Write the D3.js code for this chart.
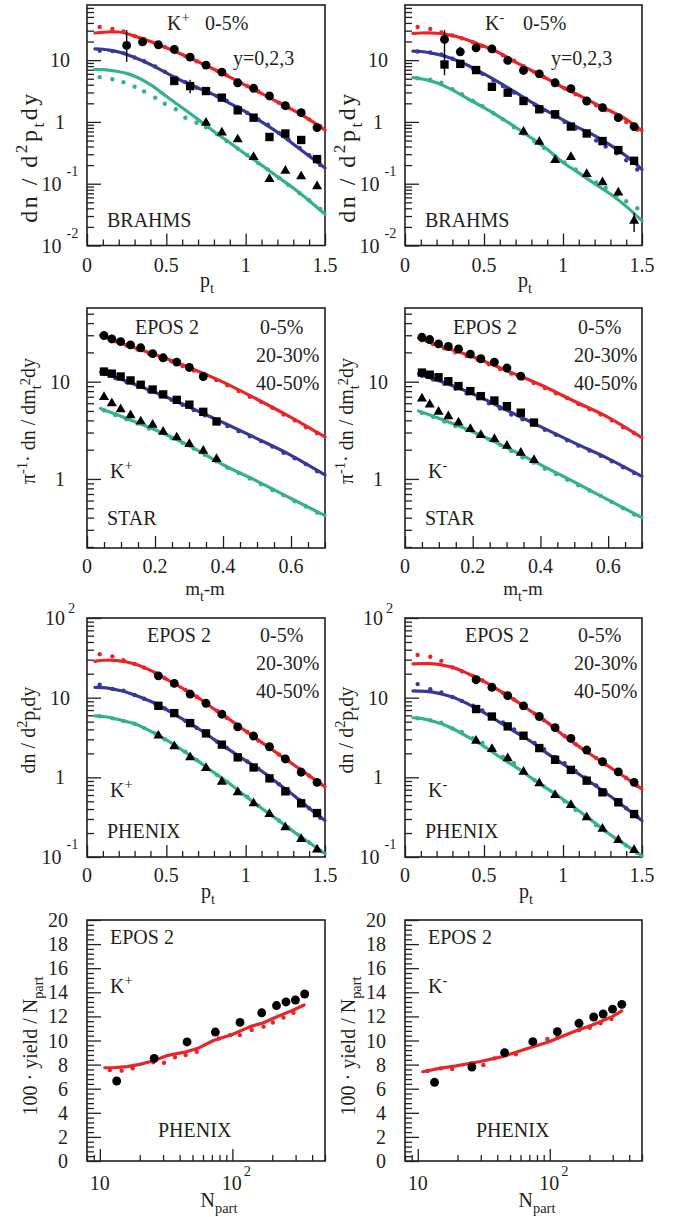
<!DOCTYPE html>
<html>
<head>
<meta charset="utf-8">
<script src="https://cdn.jsdelivr.net/npm/d3@7"></script>
<style>
  body { margin: 0; background: #fff; }
  svg text { font-family: "Liberation Serif", "Times New Roman", serif; fill: #231f20; white-space: pre; }
</style>
</head>
<body>
<svg id="fig" width="678" height="1217"></svg>
<script>
// ------------------------------------------------------------------
// Kaon spectra and yields, EPOS 2 compared with RHIC data
// ------------------------------------------------------------------

// ---- BRAHMS, 0-5%, rapidities y = 0, 2, 3 ----
const brahmsModelPt = [0.05, 0.1, 0.15, 0.2, 0.25, 0.3, 0.4, 0.5, 0.6, 0.7, 0.8, 0.9, 1.0, 1.1, 1.2, 1.3, 1.4, 1.5];
const brahmsKpModelY0 = [27.5, 28.2, 28.6, 28.5, 27, 24.5, 20, 15.8, 12.3, 9.4, 7.1, 5.3, 3.9, 2.9, 2.1, 1.55, 1.1, 0.74];
const brahmsKpModelY2 = [15.2, 15, 14.4, 13.5, 12.3, 11, 8.5, 6.2, 4.6, 3.55, 2.75, 2.0, 1.45, 1.0, 0.68, 0.44, 0.28, 0.18];
const brahmsKpModelY3 = [7.1, 7.0, 6.8, 6.5, 6.1, 5.5, 4.0, 2.6, 1.7, 1.1, 0.70, 0.46, 0.30, 0.20, 0.13, 0.085, 0.053, 0.032];
const brahmsKmModelY0 = [27, 27.5, 27.6, 27.2, 26.3, 25, 21, 16.8, 13, 9.3, 6.8, 5.0, 3.6, 2.7, 2.0, 1.5, 1.1, 0.72];
const brahmsKmModelY2 = [14, 13.8, 13.3, 12.5, 11.6, 10.5, 8.2, 6.0, 4.3, 3.0, 2.1, 1.5, 1.08, 0.8, 0.6, 0.42, 0.28, 0.17];
const brahmsKmModelY3 = [5.2, 5.0, 4.7, 4.3, 3.8, 3.3, 2.35, 1.7, 1.2, 0.82, 0.55, 0.36, 0.22, 0.15, 0.10, 0.068, 0.043, 0.025];

// second EPOS 2 calculation, drawn as dots
const spectraDotPt = [0.08, 0.16, 0.23, 0.3, 0.36, 0.43, 0.49, 0.56, 0.62, 0.69, 0.75, 0.82, 0.88, 0.95, 1.01, 1.08, 1.14, 1.21, 1.27, 1.34, 1.4, 1.47];
const brahmsKpDotY0 = [34.5, 32, 29, 24.5, 22, 18.8, 16.3, 13.5, 11.6, 9.6, 8.2, 6.7, 5.7, 4.6, 3.8, 3.1, 2.6, 2.05, 1.7, 1.35, 1.1, 0.85];
const brahmsKpDotY2 = [14.2, 14, 13, 11, 9.6, 7.9, 6.5, 5.2, 4.4, 3.6, 3.1, 2.6, 2.2, 1.75, 1.4, 1.1, 0.9, 0.66, 0.52, 0.38, 0.29, 0.2];
const brahmsKpDotY3 = [5.3, 4.9, 4.4, 3.7, 3.1, 2.47, 1.97, 1.6, 1.17, 0.97, 0.82, 0.63, 0.49, 0.37, 0.29, 0.215, 0.17, 0.125, 0.095, 0.07, 0.054, 0.039];
const brahmsKmDotY0 = [34.4, 32, 28, 25, 22.5, 19.5, 17, 14, 12, 9.8, 8.0, 6.4, 5.3, 4.2, 3.5, 2.8, 2.3, 1.85, 1.55, 1.2, 1.0, 0.75];
const brahmsKmDotY2 = [13.8, 13.3, 12.4, 10.5, 9.0, 7.3, 6.0, 4.7, 3.8, 3.0, 2.4, 1.9, 1.55, 1.2, 1.0, 0.78, 0.64, 0.5, 0.4, 0.31, 0.24, 0.17];
const brahmsKmDotY3 = [5.1, 4.8, 4.3, 3.4, 2.8, 2.2, 1.8, 1.38, 1.1, 0.82, 0.65, 0.48, 0.38, 0.28, 0.22, 0.17, 0.135, 0.105, 0.085, 0.065, 0.052, 0.04];

// measured points
const brahmsPtFrom025 = [0.25, 0.35, 0.45, 0.55, 0.65, 0.75, 0.85, 0.95, 1.05, 1.15, 1.25, 1.35, 1.45];
const brahmsPtFrom055 = [0.55, 0.65, 0.75, 0.85, 0.95, 1.05, 1.15, 1.25, 1.35, 1.45];
const brahmsPtFrom075 = [0.75, 0.85, 0.95, 1.05, 1.15, 1.25, 1.35, 1.45];
const brahmsKpDataY0 = [17.3, 19.7, 17.7, 14.9, 11.2, 8.3, 6.4, 4.3, 3.5, 2.63, 1.83, 1.41, 0.81];
const brahmsKpDataY2 = [4.6, 3.8, 3.16, 2.47, 1.54, 1.17, 0.57, 0.65, 0.51, 0.25];
const brahmsKpDataY3 = [0.97, 0.67, 0.52, 0.27, 0.119, 0.162, 0.131, 0.091];
const brahmsKmDataY0 = [21.6, 13.6, 15.8, 15.2, 9.9, 6.8, 6.0, 4.3, 3.45, 2.18, 1.70, 1.17, 0.84];
const brahmsKmDataY2 = [8.5, 8.7, 6.9, 3.7, 2.97, 2.18, 1.6, 1.33, 0.84, 0.65, 0.49, 0.35, 0.235];
const brahmsKmDataY3 = [0.69, 0.475, 0.24, 0.27, 0.143, 0.105, 0.072, 0.025];
// error bars: [pt, low, high]
const brahmsKpErrors = [[0.25, 9.4, 30.6], [0.65, 2.9, 4.8]];
const brahmsKmErrors = [[0.25, 5.7, 30.6], [0.35, 12, 16.5], [1.45, 0.0165, 0.034]];

// ---- STAR, centralities 0-5%, 20-30%, 40-50% ----
const starModelMt = [0.04, 0.1, 0.2, 0.3, 0.4, 0.5, 0.6, 0.7];
const starKpModel0 = [30, 25, 19, 14, 9.9, 6.6, 4.3, 2.7];
const starKpModel20 = [12.5, 10.6, 7.8, 5.5, 3.8, 2.6, 1.75, 1.1];
const starKpModel40 = [5.3, 4.4, 3.2, 2.2, 1.4, 0.95, 0.63, 0.42];
const starKmModel0 = [28, 23.5, 18, 13, 9.3, 6.3, 4.3, 2.65];
const starKmModel20 = [12, 10.2, 7.5, 5.1, 3.45, 2.35, 1.62, 1.06];
const starKmModel40 = [5.0, 4.2, 3.05, 2.1, 1.4, 0.93, 0.61, 0.40];
const starDotMt = [0.05, 0.083, 0.116, 0.149, 0.182, 0.215, 0.248, 0.281, 0.314, 0.347, 0.38, 0.413, 0.446, 0.479, 0.512, 0.545, 0.578, 0.611, 0.644, 0.677];
const starKpDot0 = [28.6, 26, 23.6, 21.4, 19.5, 17.8, 16.2, 14.5, 13.0, 11.6, 10.4, 9.2, 8.0, 7.0, 6.2, 5.4, 4.6, 4.0, 3.4, 2.95];
const starKpDot20 = [12, 10.9, 9.9, 9.0, 8.0, 7.2, 6.5, 5.8, 5.1, 4.5, 4.0, 3.5, 3.1, 2.75, 2.45, 2.15, 1.86, 1.63, 1.42, 1.2];
const starKpDot40 = [5.05, 4.55, 4.1, 3.7, 3.3, 3.0, 2.65, 2.35, 2.05, 1.77, 1.52, 1.3, 1.15, 1.01, 0.88, 0.77, 0.68, 0.59, 0.52, 0.45];
const starKmDot0 = [26.7, 24.3, 22, 20.1, 18.4, 16.8, 15.1, 13.5, 12.1, 10.8, 9.7, 8.6, 7.6, 6.8, 5.9, 5.2, 4.6, 4.0, 3.4, 2.95];
const starKmDot20 = [11.5, 10.5, 9.5, 8.5, 7.6, 6.8, 6.0, 5.3, 4.6, 4.1, 3.6, 3.2, 2.85, 2.5, 2.2, 1.96, 1.73, 1.52, 1.32, 1.15];
const starKmDot40 = [4.75, 4.35, 3.9, 3.5, 3.2, 2.85, 2.55, 2.25, 1.94, 1.67, 1.47, 1.27, 1.12, 0.98, 0.86, 0.76, 0.67, 0.58, 0.5, 0.43];
const starMt = [0.05, 0.073, 0.099, 0.128, 0.158, 0.193, 0.224, 0.264, 0.301, 0.342, 0.381];
const starKpData0 = [29.8, 27.5, 25.8, 23.9, 22.3, 19.4, 17.6, 15.9, 14.0, 11.3];
const starKpData20 = [12.7, 12.1, 11.3, 10.3, 9.3, 8.3, 7.4, 6.5, 5.8, 4.9, 3.9];
const starKpData40 = [6.96, 6.0, 5.2, 4.5, 3.9, 3.6, 3.05, 2.67, 2.28, 1.95, 1.6];
const starKmData0 = [28.6, 27.1, 24.5, 23, 21.7, 19.2, 17.2, 15.9, 13.8, 11.4];
const starKmData20 = [12.4, 11.8, 11.1, 10.1, 9.0, 8.0, 7.1, 6.4, 5.6, 4.8, 3.8];
const starKmData40 = [6.7, 5.8, 4.9, 4.4, 3.8, 3.25, 2.82, 2.57, 2.19, 1.86, 1.56];

// ---- PHENIX, centralities 0-5%, 20-30%, 40-50% ----
const phenixModelPt = [0.05, 0.1, 0.15, 0.2, 0.25, 0.3, 0.4, 0.5, 0.6, 0.7, 0.8, 0.9, 1.0, 1.1, 1.2, 1.3, 1.4, 1.5];
const phenixKpModel0 = [28.5, 29.5, 29.6, 29, 28, 26.5, 22, 17.1, 13.2, 10, 7.2, 5.3, 3.8, 2.75, 2.0, 1.45, 1.05, 0.76];
const phenixKpModel20 = [13.5, 13.4, 13, 12.4, 11.7, 10.8, 9.0, 7.1, 5.4, 4.1, 3.0, 2.2, 1.62, 1.2, 0.85, 0.6, 0.41, 0.286];
const phenixKpModel40 = [5.9, 5.8, 5.6, 5.3, 5.0, 4.7, 3.8, 2.95, 2.2, 1.6, 1.15, 0.83, 0.58, 0.41, 0.295, 0.21, 0.152, 0.11];
const phenixKmModel0 = [26.5, 26.8, 26.7, 26.3, 25.3, 24, 20, 16, 12.2, 9.2, 6.7, 4.9, 3.4, 2.45, 1.8, 1.33, 0.98, 0.71];
const phenixKmModel20 = [12.2, 12.1, 11.9, 11.5, 10.9, 10.2, 8.3, 6.5, 4.9, 3.7, 2.8, 2.0, 1.47, 1.1, 0.8, 0.58, 0.41, 0.286];
const phenixKmModel40 = [5.6, 5.5, 5.25, 4.9, 4.55, 4.1, 3.2, 2.45, 1.8, 1.35, 0.98, 0.72, 0.53, 0.38, 0.27, 0.19, 0.14, 0.104];
const phenixKpDot0 = [35, 33, 29.6, 26.5, 23.8, 20.5, 17.5, 14.6, 12.5, 10.3, 8.5, 6.8, 5.6, 4.5, 3.7, 2.9, 2.4, 1.93, 1.6, 1.27, 1.05, 0.83];
const phenixKpDot20 = [14.5, 12.9, 12.2, 10.8, 9.7, 8.4, 7.3, 6.1, 5.1, 4.2, 3.5, 2.8, 2.35, 1.9, 1.58, 1.28, 1.05, 0.82, 0.67, 0.52, 0.41, 0.31];
const phenixKpDot40 = [5.85, 5.5, 5.1, 4.7, 4.15, 3.55, 3.0, 2.5, 2.1, 1.65, 1.36, 1.07, 0.88, 0.7, 0.57, 0.44, 0.36, 0.285, 0.235, 0.185, 0.152, 0.12];
const phenixKmDot0 = [34.3, 32.6, 29, 24, 21.5, 18.8, 16.4, 13.6, 11.5, 9.5, 7.85, 6.3, 5.2, 4.1, 3.3, 2.6, 2.2, 1.75, 1.45, 1.17, 0.98, 0.78];
const phenixKmDot20 = [14.8, 12.8, 11.6, 10.2, 9.1, 7.9, 6.9, 5.8, 4.9, 4.0, 3.3, 2.7, 2.25, 1.8, 1.5, 1.2, 1.0, 0.79, 0.66, 0.52, 0.41, 0.32];
const phenixKmDot40 = [5.5, 5.2, 4.85, 4.1, 3.7, 3.1, 2.7, 2.25, 1.8, 1.5, 1.15, 0.92, 0.77, 0.6, 0.5, 0.39, 0.32, 0.25, 0.21, 0.165, 0.14, 0.112];
const phenixPt = [0.45, 0.55, 0.65, 0.75, 0.85, 0.95, 1.05, 1.15, 1.25, 1.35, 1.45];
const phenixKpData0 = [18.8, 15.1, 11.1, 8.5, 6.2, 4.3, 3.3, 2.42, 1.70, 1.16, 0.865];
const phenixKpData20 = [7.9, 6.4, 4.8, 3.56, 2.57, 1.78, 1.33, 0.97, 0.667, 0.472, 0.356];
const phenixKpData40 = [3.33, 2.45, 1.78, 1.31, 0.88, 0.648, 0.472, 0.346, 0.236, 0.168, 0.124];
const phenixKmData0 = [16.8, 13.5, 10.6, 7.9, 5.8, 4.2, 3.08, 2.2, 1.57, 1.17, 0.865];
const phenixKmData20 = [7.2, 5.8, 4.36, 3.33, 2.33, 1.66, 1.24, 0.908, 0.648, 0.486, 0.346];
const phenixKmData40 = [2.88, 2.27, 1.73, 1.17, 0.84, 0.6, 0.449, 0.315, 0.225, 0.163, 0.122];

// ---- PHENIX yields per participant vs Npart ----
const npartData = [13.4, 25.7, 45.5, 74.4, 114.2, 166.6, 215.3, 253.9, 299.0, 351.4];
const yieldKpData = [6.64, 8.52, 9.88, 10.7, 11.5, 12.3, 12.9, 13.2, 13.36, 13.86];
const yieldKmData = [6.53, 7.8, 8.99, 9.9, 10.73, 11.43, 11.95, 12.2, 12.6, 13.0];
const npartModelKp = [10.9, 13, 16, 20, 25, 32, 40, 45, 55, 72, 100, 136, 170, 204, 250, 289, 348];
const yieldModelKp = [7.74, 7.75, 7.83, 8.02, 8.3, 8.74, 8.95, 9.07, 9.35, 10.0, 10.5, 11.15, 11.45, 11.84, 12.25, 12.53, 12.95];
const npartModelKm = [10.9, 14.6, 19.5, 29.2, 43.9, 65.9, 98.9, 148, 210, 298, 351];
const yieldModelKm = [7.41, 7.69, 7.9, 8.24, 8.66, 9.29, 9.9, 10.68, 11.29, 11.98, 12.45];
const npartDotKp = [11.9, 14.6, 17.7, 25.3, 30.5, 36.9, 44.4, 53.8, 79, 96, 114, 140, 172, 202, 243, 289];
const yieldDotKp = [7.55, 7.5, 7.7, 8.2, 8.15, 8.6, 8.8, 9.07, 10.17, 10.45, 10.45, 10.87, 11.15, 11.5, 11.9, 12.3];
const npartDotKm = [11.9, 15, 18.2, 25.3, 31.4, 38, 55.4, 96, 114, 167, 201, 243, 294];
const yieldDotKm = [7.47, 7.69, 7.63, 8.1, 7.97, 8.52, 8.85, 10.12, 10.24, 10.87, 11.06, 11.43, 11.78];

// ------------------------------------------------------------------
const INK = '#231f20';
const RED = '#e8262a', BLUE = '#38389a', GREEN = '#35b387';
const svg = d3.select('#fig');

// text with super/subscript runs: parts = [[string, kind, shift, dx], ...]
function richText(parent, parts, size, anchor) {
  const t = parent.append('text').attr('font-size', size).attr('text-anchor', anchor || 'start');
  let cur = 0;
  parts.forEach(([str, kind, shift, gap]) => {
    let target = 0, fs = size;
    if (kind === 'sup') { target = shift != null ? shift : -0.42 * size; fs = size * 0.72; }
    else if (kind === 'sub') { target = shift != null ? shift : 0.3 * size; fs = size * 0.72; }
    const ts = t.append('tspan').attr('font-size', fs).attr('dy', target - cur).text(str);
    if (gap) ts.attr('dx', gap);
    cur = target;
  });
  return t;
}
function label(parent, x, y, parts, size, anchor) {
  return richText(parent, parts, size, anchor).attr('x', x).attr('y', y);
}

function logTicks([a, b]) {
  const out = [];
  for (let e = Math.floor(Math.log10(a)) - 1; e <= Math.ceil(Math.log10(b)); e++) {
    for (let k = 1; k <= 9; k++) {
      const v = k * Math.pow(10, e);
      if (v >= a * 0.999 && v <= b * 1.001) out.push({ v, major: k === 1 });
    }
  }
  return out;
}
function linTicks([a, b], major, minor) {
  const out = [];
  const n = Math.round((b - a) / minor);
  for (let i = 0; i <= n; i++) {
    const v = +(a + i * minor).toFixed(6);
    if (v > b + 1e-9) break;
    out.push({ v, major: Math.abs(v / major - Math.round(v / major)) < 1e-6 });
  }
  return out;
}
function powLabel(v, raise, gap) {
  const e = Math.round(Math.log10(v));
  if (e === 0) return [['1']];
  if (e === 1) return [['10']];
  return [['10'], [String(e), 'sup', raise, gap]];
}

function panel(cfg) {
  const g = svg.append('g');
  const L = cfg.left, T = cfg.top, W = cfg.width, H = cfg.height;
  const x = (cfg.xLog ? d3.scaleLog() : d3.scaleLinear()).domain(cfg.xDomain).range([L, L + W]);
  const y = (cfg.yLog ? d3.scaleLog() : d3.scaleLinear()).domain(cfg.yDomain).range([T + H, T]);

  const yt = cfg.yLog ? logTicks(cfg.yDomain) : linTicks(cfg.yDomain, cfg.yMajor, cfg.yMinor);
  const xt = cfg.xLog ? logTicks(cfg.xDomain) : linTicks(cfg.xDomain, cfg.xMajor, cfg.xMinor);

  const tickStyle = s => { s.select('.domain').remove(); s.selectAll('line').attr('stroke', INK).attr('stroke-width', 1.3); };
  g.append('g').attr('transform', `translate(${L},0)`)
    .call(d3.axisLeft(y).tickValues(yt.filter(t => t.major).map(t => t.v)).tickSize(-14).tickFormat(''))
    .call(tickStyle);
  g.append('g').attr('transform', `translate(${L},0)`)
    .call(d3.axisLeft(y).tickValues(yt.filter(t => !t.major).map(t => t.v)).tickSize(-7).tickFormat(''))
    .call(tickStyle);
  g.append('g').attr('transform', `translate(0,${T + H})`)
    .call(d3.axisBottom(x).tickValues(xt.filter(t => t.major).map(t => t.v)).tickSize(-12).tickFormat(''))
    .call(tickStyle);
  g.append('g').attr('transform', `translate(0,${T + H})`)
    .call(d3.axisBottom(x).tickValues(xt.filter(t => !t.major).map(t => t.v)).tickSize(-6).tickFormat(''))
    .call(tickStyle);

  // tick labels
  const fs = 20;
  yt.filter(t => t.major).forEach(t => {
    if (cfg.yLog) {
      const e = Math.round(Math.log10(t.v));
      label(g, L - 27, y(t.v) + 7, powLabel(t.v, e < 0 ? -15 : -12, e < 0 ? 5 : 3), fs, 'middle');
    } else {
      label(g, L - 19, y(t.v) + 7, [[String(t.v)]], fs, 'end');
    }
  });
  xt.filter(t => t.major).forEach(t => {
    if (cfg.xLog) {
      const e = Math.round(Math.log10(t.v));
      label(g, x(t.v) + (e > 1 ? 4 : 0), T + H + cfg.xLabelOff, powLabel(t.v, -14, 2), fs, 'middle');
    } else {
      label(g, x(t.v), T + H + cfg.xLabelOff, [[String(t.v)]], fs, 'middle');
    }
  });

  // axis titles
  label(g, cfg.xTitle.x, cfg.xTitle.y, cfg.xTitle.parts, cfg.xTitle.size || fs, 'middle');
  richText(g, cfg.yTitle.parts, cfg.yTitle.size || fs, 'middle')
    .attr('letter-spacing', cfg.yTitle.spacing || 0)
    .attr('transform', `translate(${cfg.yTitle.x},${cfg.yTitle.y}) rotate(-90)`);

  // frame
  g.append('rect').attr('x', L).attr('y', T).attr('width', W).attr('height', H)
    .attr('fill', 'none').attr('stroke', INK).attr('stroke-width', 1.6);

  const plot = g.append('g');
  return { g, plot, x, y };
}

function modelLine(p, xs, ys, color, curve) {
  p.plot.append('path')
    .datum(xs.map((v, i) => [v, ys[i]]))
    .attr('fill', 'none').attr('stroke', color).attr('stroke-width', 3.2)
    .attr('stroke-linejoin', 'round').attr('stroke-linecap', 'round')
    .attr('d', d3.line().x(d => p.x(d[0])).y(d => p.y(d[1])).curve(curve || d3.curveMonotoneX));
}
function modelDots(p, xs, ys, color) {
  p.plot.append('g').selectAll('circle')
    .data(xs.map((v, i) => [v, ys[i]]))
    .join('circle').attr('cx', d => p.x(d[0])).attr('cy', d => p.y(d[1]))
    .attr('r', 2.2).attr('fill', color);
}
const SYM = {
  circle: d3.symbol(d3.symbolCircle, 62),
  square: d3.symbol(d3.symbolSquare, 70),
  triangle: d3.symbol(d3.symbolTriangle, 44)
};
function dataPoints(p, xs, ys, kind) {
  p.plot.append('g').selectAll('path')
    .data(ys.map((v, i) => [xs[i], v]))
    .join('path')
    .attr('transform', d => `translate(${p.x(d[0])},${p.y(d[1])})`)
    .attr('d', SYM[kind]()).attr('fill', '#000');
}
function errorBars(p, list) {
  p.plot.append('g').selectAll('line')
    .data(list).join('line')
    .attr('x1', d => p.x(d[0])).attr('x2', d => p.x(d[0]))
    .attr('y1', d => p.y(d[1])).attr('y2', d => p.y(d[2]))
    .attr('stroke', '#000').attr('stroke-width', 1.4);
}

// ---- layout ----
const COLS = [{ left: 87, width: 238 }, { left: 405, width: 237 }];
const ROWS = [{ top: 5, height: 240.5 }, { top: 308, height: 240 }, { top: 618, height: 239 }, { top: 920, height: 241 }];
const DX = COLS[1].left - COLS[0].left;

const ptTitle = [['p'], ['t', 'sub']];
const dndpt = [['dn / d'], ['2', 'sup'], ['p'], ['t', 'sub'], ['dy']];
const dndmt = [['π'], ['-1', 'sup'], ['· dn / dm'], ['t', 'sub'], ['2', 'sup', -5], ['dy']];
const yieldTitle = [['100 · yield / N'], ['part', 'sub']];

function rowCfg(r, c, extra) {
  return Object.assign({ left: COLS[c].left, width: COLS[c].width, top: ROWS[r].top, height: ROWS[r].height }, extra);
}

// ================= Row 1: BRAHMS =================
[
  { c: 0, name: [['K'], ['+', 'sup']], m: [brahmsKpModelY0, brahmsKpModelY2, brahmsKpModelY3],
    d: [brahmsKpDotY0, brahmsKpDotY2, brahmsKpDotY3],
    pts: [[brahmsPtFrom025, brahmsKpDataY0], [brahmsPtFrom055, brahmsKpDataY2], [brahmsPtFrom075, brahmsKpDataY3]],
    err: brahmsKpErrors },
  { c: 1, name: [['K'], ['-', 'sup']], m: [brahmsKmModelY0, brahmsKmModelY2, brahmsKmModelY3],
    d: [brahmsKmDotY0, brahmsKmDotY2, brahmsKmDotY3],
    pts: [[brahmsPtFrom025, brahmsKmDataY0], [brahmsPtFrom025, brahmsKmDataY2], [brahmsPtFrom075, brahmsKmDataY3]],
    err: brahmsKmErrors }
].forEach(s => {
  const o = s.c * DX;
  const p = panel(rowCfg(0, s.c, {
    xDomain: [0, 1.5], xMajor: 0.5, xMinor: 0.1, yLog: true, yDomain: [0.01, 78], xLabelOff: 26,
    xTitle: { x: 207 + o, y: 287, parts: ptTitle },
    yTitle: { x: 37 + o, y: 157, parts: dndpt, size: 24, spacing: 2.5 }
  }));
  [RED, BLUE, GREEN].forEach((col, i) => modelLine(p, brahmsModelPt, s.m[i], col));
  [RED, BLUE, GREEN].forEach((col, i) => modelDots(p, spectraDotPt, s.d[i], col));
  errorBars(p, s.err);
  ['circle', 'square', 'triangle'].forEach((k, i) => dataPoints(p, s.pts[i][0], s.pts[i][1], k));
  label(p.g, 167 + o, 30, s.name, 20);
  label(p.g, 205 + o, 30, [['0-5%']], 20);
  label(p.g, 233 + o, 65, [['y=0,2,3']], 20);
  label(p.g, 107 + o, 227, [['BRAHMS']], 20);
});

// ================= Row 2: STAR =================
[
  { c: 0, name: [['K'], ['+', 'sup']], m: [starKpModel0, starKpModel20, starKpModel40],
    d: [starKpDot0, starKpDot20, starKpDot40], pts: [starKpData0, starKpData20, starKpData40] },
  { c: 1, name: [['K'], ['-', 'sup']], m: [starKmModel0, starKmModel20, starKmModel40],
    d: [starKmDot0, starKmDot20, starKmDot40], pts: [starKmData0, starKmData20, starKmData40] }
].forEach(s => {
  const o = s.c * DX;
  const p = panel(rowCfg(1, s.c, {
    xDomain: [0, 0.7], xMajor: 0.2, xMinor: 0.05, yLog: true, yDomain: [0.195, 57.2], xLabelOff: 25,
    xTitle: { x: 205 + o, y: 595, parts: [['m'], ['t', 'sub'], ['-m']], size: 19 },
    yTitle: { x: 35 + o, y: 421, parts: dndmt, size: 20 }
  }));
  [RED, BLUE, GREEN].forEach((col, i) => modelLine(p, starModelMt, s.m[i], col));
  [RED, BLUE, GREEN].forEach((col, i) => modelDots(p, starDotMt, s.d[i], col));
  ['circle', 'square', 'triangle'].forEach((k, i) => dataPoints(p, starMt, s.pts[i], k));
  label(p.g, 135 + o, 334, [['EPOS 2']], 20);
  label(p.g, 260 + o, 334, [['0-5%']], 20);
  label(p.g, 256 + o, 362, [['20-30%']], 20);
  label(p.g, 256 + o, 390, [['40-50%']], 20);
  label(p.g, 110 + o, 478, s.name, 20);
  label(p.g, 107 + o, 525, [['STAR']], 20);
});

// ================= Row 3: PHENIX spectra =================
[
  { c: 0, name: [['K'], ['+', 'sup']], m: [phenixKpModel0, phenixKpModel20, phenixKpModel40],
    d: [phenixKpDot0, phenixKpDot20, phenixKpDot40], pts: [phenixKpData0, phenixKpData20, phenixKpData40] },
  { c: 1, name: [['K'], ['-', 'sup']], m: [phenixKmModel0, phenixKmModel20, phenixKmModel40],
    d: [phenixKmDot0, phenixKmDot20, phenixKmDot40], pts: [phenixKmData0, phenixKmData20, phenixKmData40] }
].forEach(s => {
  const o = s.c * DX;
  const p = panel(rowCfg(2, s.c, {
    xDomain: [0, 1.5], xMajor: 0.5, xMinor: 0.1, yLog: true, yDomain: [0.1, 100], xLabelOff: 25,
    xTitle: { x: 208 + o, y: 898, parts: ptTitle },
    yTitle: { x: 35 + o, y: 730, parts: dndpt, size: 20 }
  }));
  [RED, BLUE, GREEN].forEach((col, i) => modelLine(p, phenixModelPt, s.m[i], col));
  [RED, BLUE, GREEN].forEach((col, i) => modelDots(p, spectraDotPt, s.d[i], col));
  ['circle', 'square', 'triangle'].forEach((k, i) => dataPoints(p, phenixPt, s.pts[i], k));
  label(p.g, 147 + o, 642, [['EPOS 2']], 20);
  label(p.g, 260 + o, 642, [['0-5%']], 20);
  label(p.g, 256 + o, 670, [['20-30%']], 20);
  label(p.g, 256 + o, 698, [['40-50%']], 20);
  label(p.g, 110 + o, 797, s.name, 20);
  label(p.g, 107 + o, 838, [['PHENIX']], 20);
});

// ================= Row 4: yield / Npart =================
[
  { c: 0, name: [['K'], ['+', 'sup']], mx: npartModelKp, my: yieldModelKp, dx: npartDotKp, dy: yieldDotKp, data: yieldKpData },
  { c: 1, name: [['K'], ['-', 'sup']], mx: npartModelKm, my: yieldModelKm, dx: npartDotKm, dy: yieldDotKm, data: yieldKmData }
].forEach(s => {
  const o = s.c * DX;
  const p = panel(rowCfg(3, s.c, {
    xLog: true, xDomain: [8, 500], yDomain: [0, 20], yMajor: 2, yMinor: 0.4, xLabelOff: 29,
    xTitle: { x: 219 + o, y: 1207, parts: [['N'], ['part', 'sub']] },
    yTitle: { x: 37 + o, y: 1046, parts: yieldTitle, size: 20 }
  }));
  modelLine(p, s.mx, s.my, RED, d3.curveLinear);
  modelDots(p, s.dx, s.dy, RED);
  dataPoints(p, npartData, s.data, 'circle');
  label(p.g, 110 + o, 944, [['EPOS 2']], 20);
  label(p.g, 110 + o, 993, s.name, 20);
  label(p.g, 158 + o, 1137, [['PHENIX']], 20);
});
</script>
</body>
</html>
